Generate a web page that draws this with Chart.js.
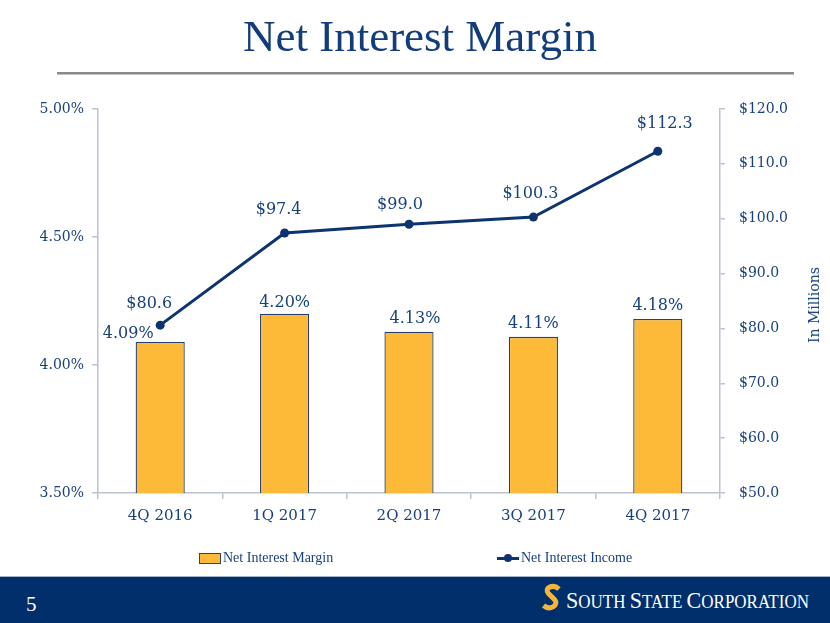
<!DOCTYPE html>
<html><head><meta charset="utf-8">
<script src="https://cdn.jsdelivr.net/npm/chart.js@4.4.0/dist/chart.umd.min.js"></script>
<style>
html,body{margin:0;padding:0;background:#fff;}
#page{position:relative;width:830px;height:623px;overflow:hidden;background:#fff;}
#chartBox{position:absolute;left:0;top:0;width:830px;height:623px;}
.ov{position:absolute;pointer-events:none;}
#title{left:0;width:840px;top:14px;height:45px;line-height:45px;text-align:center;font-family:"Liberation Serif",serif;font-size:45px;color:#123C7C;white-space:nowrap;}
#rule{left:57px;top:72px;width:737px;height:2px;background:#8A8A8A;border-bottom:1px solid #C4C4C4;}
#yTitle{left:814px;top:305px;transform:translate(-50%,-50%) rotate(-90deg);font-family:"DejaVu Serif",serif;font-size:14px;color:#17407E;white-space:nowrap;}
.lg{top:549px;height:18px;line-height:18px;font-family:"Liberation Serif",serif;font-size:14px;color:#17407E;white-space:nowrap;}
#footer{left:0;top:576px;width:830px;height:47px;background:#002F6C;border-top:1px solid #A9B3CA;}
#pgnum{left:26px;top:592px;font-family:"Liberation Serif",serif;font-size:21px;color:#fff;line-height:24px;}
</style></head>
<body>
<div id="page">
  <div id="chartBox"><canvas id="c"></canvas></div>
  <div id="title" class="ov">Net Interest Margin</div>
  <div id="rule" class="ov"></div>
  <div id="yTitle" class="ov">In Millions</div>
  <div id="legend"></div>
  <div id="footer" class="ov"></div>
  <div id="pgnum" class="ov">5</div>
  <svg class="ov" style="left:540px;top:580px" width="285" height="36">
    <path d="M19,9 C13,3.5 3.5,8 8.5,13.5 L14.5,19.5 C19.5,25 10,31 3.5,25.5" stroke="#F4B53C" stroke-width="5" fill="none" stroke-linecap="butt"/>
    <text x="26" y="27.5" fill="#ffffff" font-family="Liberation Serif, serif" font-size="24" textLength="243" lengthAdjust="spacingAndGlyphs">S<tspan font-size="18.5">OUTH </tspan>S<tspan font-size="18.5">TATE </tspan>C<tspan font-size="18.5">ORPORATION</tspan></text>
  </svg>
</div>
<script>
// ---- data ----
const categories = ['4Q 2016', '1Q 2017', '2Q 2017', '3Q 2017', '4Q 2017'];
const marginPct = [4.09, 4.20, 4.13, 4.11, 4.18];
const incomeMillions = [80.6, 97.4, 99.0, 100.3, 112.3];
const leftTicks = [3.50, 4.00, 4.50, 5.00];
const rightTicks = [50, 60, 70, 80, 90, 100, 110, 120];
const seriesNames = ['Net Interest Margin', 'Net Interest Income'];

const NAVY = '#17407E';
const LINE = '#0D3471';
const GOLD = '#FDBA39';
const AXIS = '#BDC2D0';

// HTML legend built from series names
(function(){
  const lg = document.getElementById('legend');
  const box = document.createElement('div');
  box.className='ov'; box.style.cssText='left:199px;top:553px;width:20px;height:9px;background:'+GOLD+';border:1px solid #2E4470;';
  lg.appendChild(box);
  const t1 = document.createElement('div'); t1.className='ov lg'; t1.style.left='223px'; t1.textContent=seriesNames[0]; lg.appendChild(t1);
  const ln = document.createElement('div'); ln.className='ov'; ln.style.cssText='left:497px;top:557px;width:22px;height:2.5px;background:'+LINE+';'; lg.appendChild(ln);
  const dot = document.createElement('div'); dot.className='ov'; dot.style.cssText='left:504px;top:554px;width:8px;height:8px;border-radius:50%;background:'+LINE+';'; lg.appendChild(dot);
  const t2 = document.createElement('div'); t2.className='ov lg'; t2.style.left='521px'; t2.textContent=seriesNames[1]; lg.appendChild(t2);
})();

const valueLabels = {
  id: 'valueLabels',
  afterDatasetsDraw(chart, args, opts) {
    const ctx = chart.ctx;
    chart.data.datasets.forEach((ds, i) => {
      const cfg = opts.sets[i];
      const meta = chart.getDatasetMeta(i);
      meta.data.forEach((el, j) => {
        const p = el.getProps(['x', 'y'], true);
        ctx.save();
        ctx.font = cfg.font;
        ctx.fillStyle = cfg.color;
        ctx.textAlign = 'center';
        ctx.textBaseline = 'alphabetic';
        ctx.fillText(cfg.format(ds.data[j]), p.x + cfg.dx[j], p.y - cfg.dy[j]);
        ctx.restore();
      });
    });
  }
};

new Chart(document.getElementById('c'), {
  type: 'bar',
  data: {
    labels: categories,
    datasets: [
      {
        type: 'bar', label: seriesNames[0], data: marginPct, yAxisID: 'y', order: 1,
        backgroundColor: GOLD, borderColor: '#2A3F6C', borderWidth: 1.3,
        categoryPercentage: 1, barPercentage: 0.395
      },
      {
        type: 'line', label: seriesNames[1], data: incomeMillions, yAxisID: 'y1', order: 0,
        borderColor: LINE, backgroundColor: LINE, borderWidth: 3,
        pointRadius: 4.5, pointBackgroundColor: LINE, pointBorderWidth: 0, tension: 0
      }
    ]
  },
  options: {
    responsive: true, maintainAspectRatio: false, animation: false,
    layout: { padding: { top: 109, bottom: 80, left: 0, right: 0 } },
    plugins: {
      legend: { display: false }, tooltip: { enabled: false },
      valueLabels: {
        sets: [
          { font: '16px "DejaVu Serif"', color: NAVY, format: v => v.toFixed(2) + '%',
            dx: [-32, 0, 6, 0, 0], dy: [4, 7, 9, 9, 9] },
          { font: '16px "DejaVu Serif"', color: NAVY, format: v => '$' + v.toFixed(1),
            dx: [-11, -6, -9, -3, 7], dy: [17, 19, 15, 19, 23] }
        ]
      }
    },
    scales: {
      x: {
        grid: { drawOnChartArea: false, drawTicks: true, tickLength: 6, color: AXIS, offset: true, lineWidth: 1.5 },
        border: { display: true, color: AXIS, width: 1.5 },
        ticks: { font: { family: 'DejaVu Serif', size: 15 }, color: NAVY, padding: 8 },
        afterFit(s) { s.height = 50; }
      },
      y: {
        position: 'left', min: 3.5, max: 5.0,
        afterBuildTicks(s) { s.ticks = leftTicks.map(v => ({ value: v })); },
        grid: { drawOnChartArea: false, drawTicks: true, tickLength: 6, color: AXIS, lineWidth: 1.5 },
        border: { display: true, color: AXIS, width: 1.5 },
        ticks: { font: { family: 'DejaVu Serif', size: 14 }, color: NAVY, padding: 8,
                 callback: v => Number(v).toFixed(2) + '%' },
        afterFit(s) { s.width = 98; }
      },
      y1: {
        position: 'right', min: 50, max: 120,
        afterBuildTicks(s) { s.ticks = rightTicks.map(v => ({ value: v })); },
        grid: { drawOnChartArea: false, drawTicks: true, tickLength: 5, color: AXIS, lineWidth: 1.5 },
        border: { display: true, color: AXIS, width: 1.5 },
        ticks: { font: { family: 'DejaVu Serif', size: 14 }, color: NAVY, padding: 14,
                 callback: v => '$' + Number(v).toFixed(1) },
        afterFit(s) { s.width = 110; }
      }
    }
  },
  plugins: [valueLabels]
});
</script>
</body></html>
